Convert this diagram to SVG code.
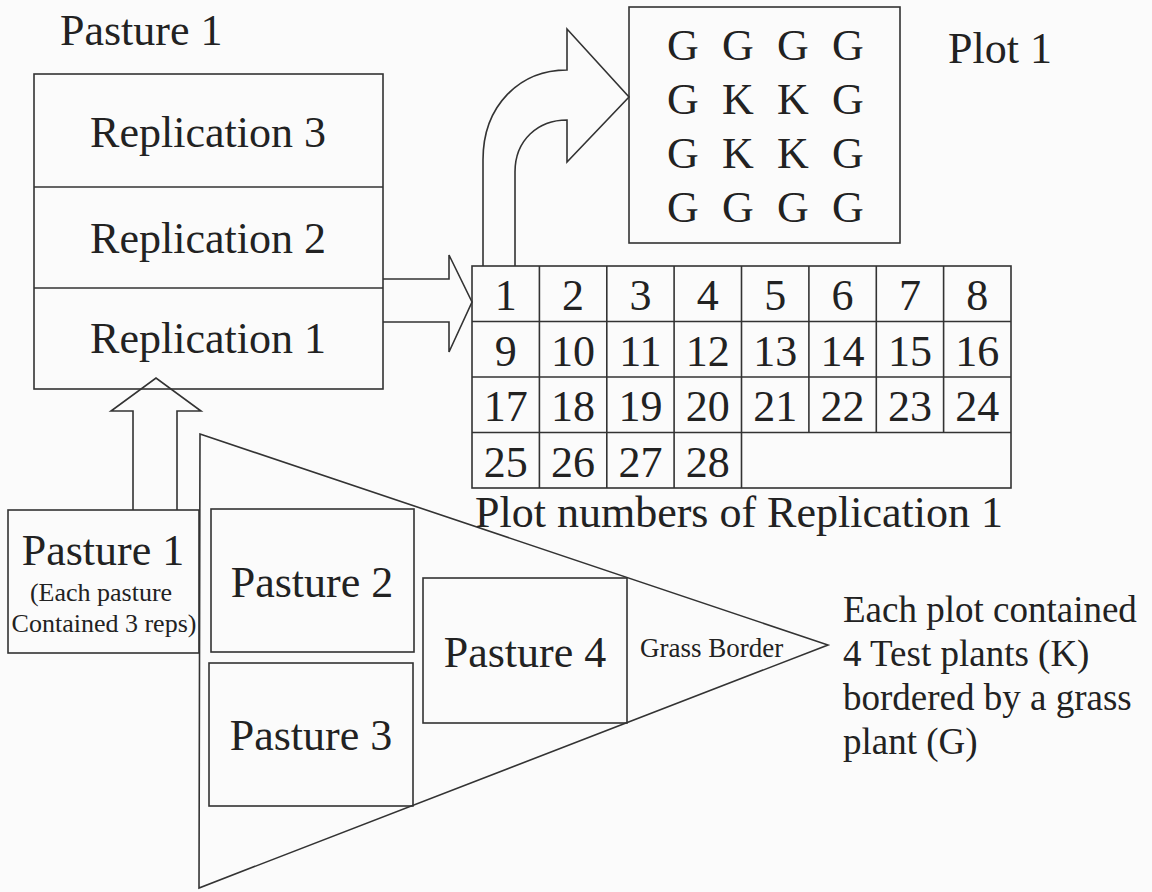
<svg xmlns="http://www.w3.org/2000/svg" width="1152" height="892" viewBox="0 0 1152 892">
  <style>
    .ln { fill: none; stroke: #333; stroke-width: 1.6; stroke-linejoin: miter; }
    .t { font-family: "Liberation Serif", "Times New Roman", serif; fill: #222; }
    .big { font-size: 44px; }
    .mid { font-size: 37px; }
    .sm { font-size: 26px; }
    .c { text-anchor: middle; }
  </style>

  <rect x="0" y="0" width="1152" height="892" fill="#fbfbfb"/>

  <!-- Pasture 1 split into three replications -->
  <g id="pasture1-reps">
    <text class="t big" x="60" y="45">Pasture 1</text>
    <rect class="ln" x="34" y="74" width="349" height="315"/>
    <line class="ln" x1="34" y1="187" x2="383" y2="187"/>
    <line class="ln" x1="34" y1="288" x2="383" y2="288"/>
    <text class="t big c" x="208" y="147">Replication 3</text>
    <text class="t big c" x="208" y="253">Replication 2</text>
    <text class="t big c" x="208" y="353">Replication 1</text>
  </g>

  <!-- Plot layout -->
  <g id="plot1">
    <rect class="ln" x="629" y="7" width="271" height="236"/>
    <g class="t big c">
      <text x="683" y="60">G</text><text x="738" y="60">G</text><text x="793" y="60">G</text><text x="848" y="60">G</text>
      <text x="683" y="114">G</text><text x="738" y="114">K</text><text x="793" y="114">K</text><text x="848" y="114">G</text>
      <text x="683" y="168">G</text><text x="738" y="168">K</text><text x="793" y="168">K</text><text x="848" y="168">G</text>
      <text x="683" y="222">G</text><text x="738" y="222">G</text><text x="793" y="222">G</text><text x="848" y="222">G</text>
    </g>
    <text class="t big" x="948" y="63">Plot 1</text>
  </g>

  <!-- Plot number grid of replication 1 -->
  <g id="plot-grid">
    <rect class="ln" x="472" y="266" width="539" height="222"/>
    <line class="ln" x1="472" y1="321.5" x2="1011" y2="321.5"/>
    <line class="ln" x1="472" y1="377" x2="1011" y2="377"/>
    <line class="ln" x1="472" y1="432.5" x2="1011" y2="432.5"/>
    <line class="ln" x1="539.4" y1="266" x2="539.4" y2="488"/>
    <line class="ln" x1="606.8" y1="266" x2="606.8" y2="488"/>
    <line class="ln" x1="674.1" y1="266" x2="674.1" y2="488"/>
    <line class="ln" x1="741.5" y1="266" x2="741.5" y2="488"/>
    <line class="ln" x1="808.9" y1="266" x2="808.9" y2="432.5"/>
    <line class="ln" x1="876.3" y1="266" x2="876.3" y2="432.5"/>
    <line class="ln" x1="943.6" y1="266" x2="943.6" y2="432.5"/>
    <g class="t big c">
      <text x="505.7" y="310">1</text><text x="573.1" y="310">2</text><text x="640.4" y="310">3</text><text x="707.8" y="310">4</text>
      <text x="775.2" y="310">5</text><text x="842.6" y="310">6</text><text x="909.9" y="310">7</text><text x="977.3" y="310">8</text>
      <text x="505.7" y="365.5">9</text><text x="573.1" y="365.5">10</text><text x="640.4" y="365.5">11</text><text x="707.8" y="365.5">12</text>
      <text x="775.2" y="365.5">13</text><text x="842.6" y="365.5">14</text><text x="909.9" y="365.5">15</text><text x="977.3" y="365.5">16</text>
      <text x="505.7" y="421">17</text><text x="573.1" y="421">18</text><text x="640.4" y="421">19</text><text x="707.8" y="421">20</text>
      <text x="775.2" y="421">21</text><text x="842.6" y="421">22</text><text x="909.9" y="421">23</text><text x="977.3" y="421">24</text>
      <text x="505.7" y="476.5">25</text><text x="573.1" y="476.5">26</text><text x="640.4" y="476.5">27</text><text x="707.8" y="476.5">28</text>
    </g>
    <text class="t big" x="475" y="527">Plot numbers of Replication 1</text>
  </g>

  <!-- Whole field: pastures inside the grass border -->
  <g id="field">
    <polygon class="ln" points="200,434 828,645 199,888"/>
  </g>

  <g id="pasture1">
    <rect class="ln" x="8" y="510" width="191" height="143"/>
    <text class="t big c" x="103" y="565">Pasture 1</text>
    <text class="t sm c" x="101" y="601">(Each pasture</text>
    <text class="t sm c" x="104" y="632">Contained 3 reps)</text>
  </g>

  <g id="pasture2">
    <rect class="ln" x="211" y="509" width="203" height="143"/>
    <text class="t big c" x="312" y="597">Pasture 2</text>
  </g>

  <g id="pasture3">
    <rect class="ln" x="209" y="663" width="204" height="143"/>
    <text class="t big c" x="311" y="750">Pasture 3</text>
  </g>

  <g id="pasture4">
    <rect class="ln" x="423" y="578" width="204" height="145"/>
    <text class="t big c" x="525" y="667">Pasture 4</text>
  </g>

  <g id="grass-border">
    <text class="t" x="640" y="657" font-size="27">Grass Border</text>
  </g>

  <g id="note">
    <text class="t mid" x="843" y="622">Each plot contained</text>
    <text class="t mid" x="843" y="666">4 Test plants (K)</text>
    <text class="t mid" x="843" y="710">bordered by a grass</text>
    <text class="t mid" x="843" y="754">plant (G)</text>
  </g>

  <!-- Block arrows -->
  <g id="connectors">
    <path class="ln" d="M133,510 L133,411 L111,411 L156,378 L201,411 L177,411 L177,510"/>
    <path class="ln" d="M383,279 L449,279 L449,255 L472,302 L449,352 L449,322 L383,322"/>
    <path class="ln" d="M483,266 L483,160 C483,105 520,70 567,70 L567,29 L629,97 L567,162 L567,120 C538,120 515,140 515,172 L515,266"/>
  </g>
</svg>
